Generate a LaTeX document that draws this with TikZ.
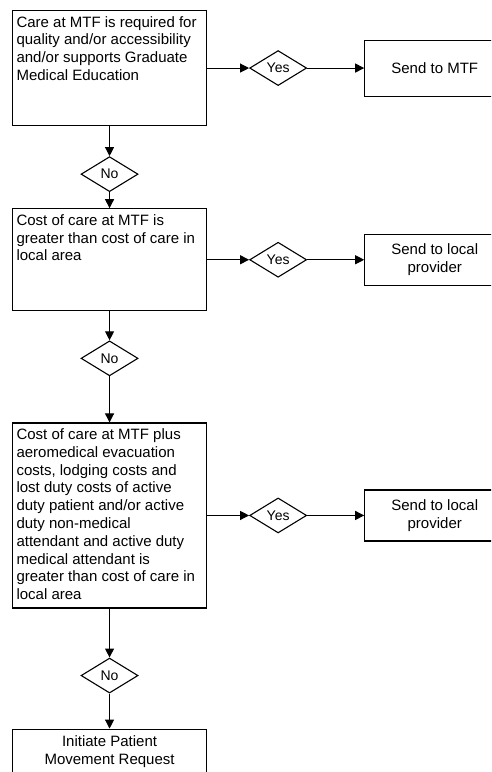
\documentclass[tikz,border=0pt]{standalone}
\usepackage{fontspec}
\setmainfont{Liberation Sans}
\usetikzlibrary{positioning, shapes.geometric, arrows.meta}

% text of a condition box, top aligned
\newcommand{\celltext}[2]{\parbox[t][#1][t]{186pt}{\raggedright\strut #2}}

\begin{document}
\begin{tikzpicture}[x = 1pt, y = -1pt, % pixel units, y down
                > = {Triangle[length = 9pt, width = 9pt]}, % arrow head style
                line width = 1.1pt, % line style
                font = \fontsize{15}{17.8}\selectfont
            ]

            \tikzstyle{cond}=[draw = black, rectangle, inner sep = 4pt]
            \tikzstyle{dec}=[draw = black, diamond, inner sep = 0pt,
            minimum width = 57pt, minimum height = 35pt,
            font = \fontsize{14}{16}\selectfont]
            \tikzstyle{send}=[draw = black, rectangle, align = center,
            minimum width = 140pt]

            \useasboundingbox (0,0) rectangle (491,772);
            \clip (0,0) rectangle (491,772);

            \node[cond, anchor = north west] (c1) at (12,10)
            {\celltext{107pt}{Care at MTF is required for\\ quality and/or
            accessibility\\ and/or supports Graduate\\ Medical Education}};
            \node[dec, right = 42pt of c1] (y1) {Yes};
            \node[send, minimum height = 56pt, right = 57pt of y1] (s1)
            {Send to MTF};
            \node[dec, below = 30pt of c1] (n1) {No};

            \node[cond, below = 16pt of n1] (c2) {\celltext{94pt}{Cost of
            care at MTF is\\ greater than cost of care in\\ local area}};
            \node[dec, right = 42pt of c2] (y2) {Yes};
            \node[send, minimum height = 51pt, right = 57pt of y2] (s2)
            {Send to local\\ provider};
            \node[dec, below = 29pt of c2] (n2) {No};

            \node[cond, below = 46pt of n2] (c3) {\celltext{177pt}{Cost of
            care at MTF plus\\ aeromedical evacuation\\ costs, lodging costs
            and\\ lost duty costs of active\\ duty patient and/or active\\
            duty non-medical\\ attendant and active duty\\ medical attendant
            is\\ greater than cost of care in\\ local area}};
            \node[dec, right = 42pt of c3] (y3) {Yes};
            \node[send, minimum height = 51pt, right = 57pt of y3] (s3)
            {Send to local\\ provider};
            \node[dec, below = 49pt of c3] (n3) {No};

            \node[cond, align = center, minimum width = 194pt,
            minimum height = 45pt, below = 35pt of n3] (c4)
            {Initiate Patient\\ Movement Request};

            \path[->] (c1) edge (y1); \path[->] (y1) edge (s1);
            \path[->] (c1) edge (n1); \path[->] (n1) edge (c2);
            \path[->] (c2) edge (y2); \path[->] (y2) edge (s2);
            \path[->] (c2) edge (n2); \path[->] (n2) edge (c3);
            \path[->] (c3) edge (y3); \path[->] (y3) edge (s3);
            \path[->] (c3) edge (n3); \path[->] (n3) edge (c4);
        \end{tikzpicture}
\end{document}
